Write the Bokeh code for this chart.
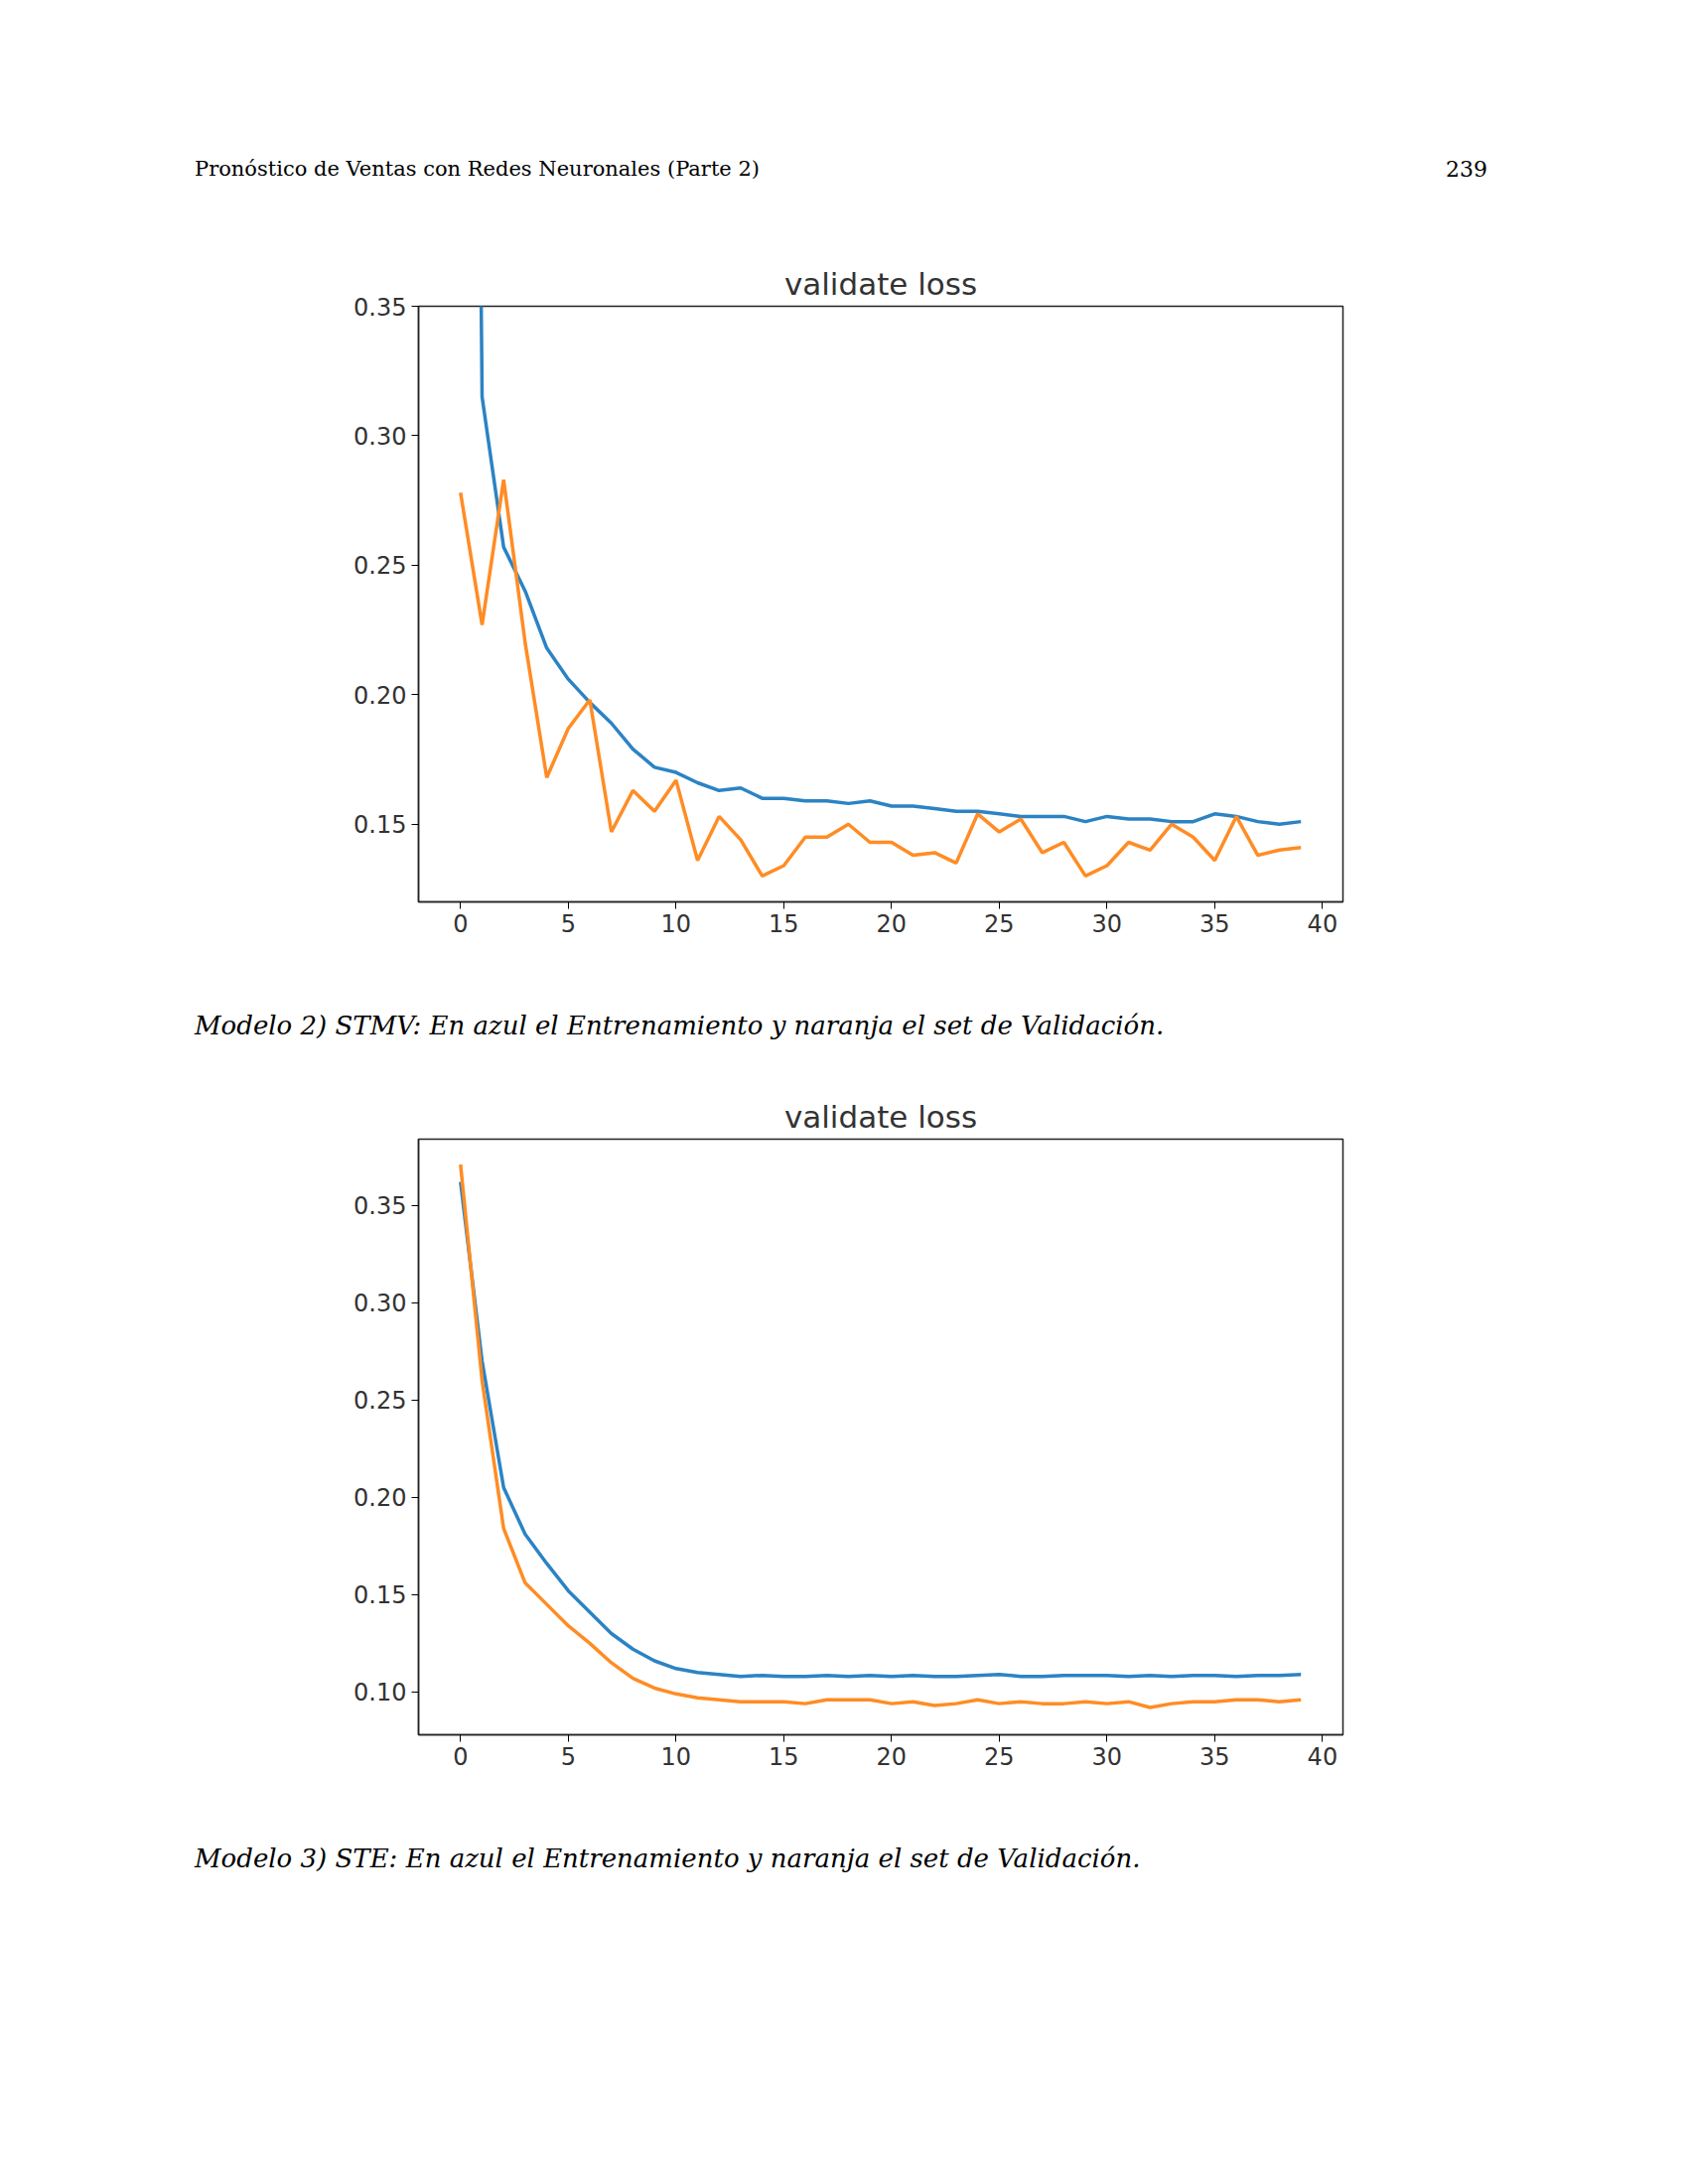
from bokeh.plotting import figure
from bokeh.layouts import column, row
from bokeh.models import Div, Spacer, FixedTicker, Range1d
from bokeh.embed import file_html
from bokeh.resources import INLINE

epochs = list(range(40))

train_stmv = [1.2, 0.315, 0.257, 0.240, 0.218, 0.206, 0.197, 0.189, 0.179, 0.172,
              0.170, 0.166, 0.163, 0.164, 0.160, 0.160, 0.159, 0.159, 0.158, 0.159,
              0.157, 0.157, 0.156, 0.155, 0.155, 0.154, 0.153, 0.153, 0.153, 0.151,
              0.153, 0.152, 0.152, 0.151, 0.151, 0.154, 0.153, 0.151, 0.150, 0.151]
val_stmv = [0.278, 0.227, 0.283, 0.220, 0.168, 0.187, 0.198, 0.147, 0.163, 0.155,
            0.167, 0.136, 0.153, 0.144, 0.130, 0.134, 0.145, 0.145, 0.150, 0.143,
            0.143, 0.138, 0.139, 0.135, 0.154, 0.147, 0.152, 0.139, 0.143, 0.130,
            0.134, 0.143, 0.140, 0.150, 0.145, 0.136, 0.153, 0.138, 0.140, 0.141]

train_ste = [0.362, 0.270, 0.205, 0.181, 0.166, 0.152, 0.141, 0.130, 0.122, 0.116,
             0.112, 0.110, 0.109, 0.108, 0.1085, 0.108, 0.108, 0.1085, 0.108, 0.1085,
             0.108, 0.1085, 0.108, 0.108, 0.1085, 0.109, 0.108, 0.108, 0.1085, 0.1085,
             0.1085, 0.108, 0.1085, 0.108, 0.1085, 0.1085, 0.108, 0.1085, 0.1085, 0.109]
val_ste = [0.371, 0.260, 0.184, 0.156, 0.145, 0.134, 0.125, 0.115, 0.107, 0.102,
           0.099, 0.097, 0.096, 0.095, 0.095, 0.095, 0.094, 0.096, 0.096, 0.096,
           0.094, 0.095, 0.093, 0.094, 0.096, 0.094, 0.095, 0.094, 0.094, 0.095,
           0.094, 0.095, 0.092, 0.094, 0.095, 0.095, 0.096, 0.096, 0.095, 0.096]

x_ticks = [0, 5, 10, 15, 20, 25, 30, 35, 40]
y_ticks = [0.10, 0.15, 0.20, 0.25, 0.30, 0.35]
y_labels = {0.10: "0.10", 0.15: "0.15", 0.20: "0.20", 0.25: "0.25", 0.30: "0.30", 0.35: "0.35"}


def make_chart(train, val, ymin, ymax):
    p = figure(width=1372, height=726, output_backend="svg", toolbar_location=None,
               x_range=Range1d(-1.95, 40.95), y_range=Range1d(ymin, ymax),
               min_border_left=421, min_border_right=20, min_border_top=56,
               min_border_bottom=70, title="validate loss")
    p.title.align = "center"
    p.title.text_font = "DejaVu Sans"
    p.title.text_font_size = "31px"
    p.title.text_font_style = "normal"
    p.title.text_color = "#333333"
    p.line(epochs, train, color="#2b83c4", line_width=3.5)
    p.line(epochs, val, color="#ff8c24", line_width=3.5)
    p.xgrid.visible = False
    p.ygrid.visible = False
    p.outline_line_color = "#222222"
    p.outline_line_width = 1.5
    p.xaxis.ticker = FixedTicker(ticks=x_ticks)
    p.yaxis.ticker = FixedTicker(ticks=y_ticks)
    p.yaxis.major_label_overrides = y_labels
    for ax in (p.xaxis, p.yaxis):
        ax.major_tick_in = 0
        ax.major_tick_out = 7
        ax.minor_tick_line_color = None
        ax.axis_line_color = "#222222"
        ax.axis_line_width = 1.5
        ax.major_label_text_font = "DejaVu Sans"
        ax.major_label_text_font_size = "24px"
        ax.major_label_text_color = "#333333"
    return p


p1 = make_chart(train_stmv, val_stmv, 0.120, 0.35)
p2 = make_chart(train_ste, val_ste, 0.078, 0.384)

header = row(
    Div(text="Pronóstico de Ventas con Redes Neuronales (Parte 2)", width=1441, height=30,
        styles={"font-family": "DejaVu Serif", "font-size": "21px", "padding-left": "191px",
                "white-space": "nowrap"}),
    Div(text="239", width=100, height=30,
        styles={"font-family": "DejaVu Serif", "font-size": "22px", "white-space": "nowrap"}),
)
cap_style = {"font-family": "DejaVu Serif", "font-style": "italic", "font-size": "26px",
             "padding-left": "191px", "white-space": "nowrap"}
cap1 = Div(text="Modelo 2) STMV: En azul el Entrenamiento y naranja el set de Validación.",
           width=1500, height=34, styles=cap_style)
cap2 = Div(text="Modelo 3) STE: En azul el Entrenamiento y naranja el set de Validación.",
           width=1500, height=34, styles=cap_style)

page = column(Spacer(height=150), header, Spacer(height=62), p1, Spacer(height=32), cap1,
              Spacer(height=37), p2, Spacer(height=32), cap2)

open("out.html", "w").write(file_html(page, INLINE))
